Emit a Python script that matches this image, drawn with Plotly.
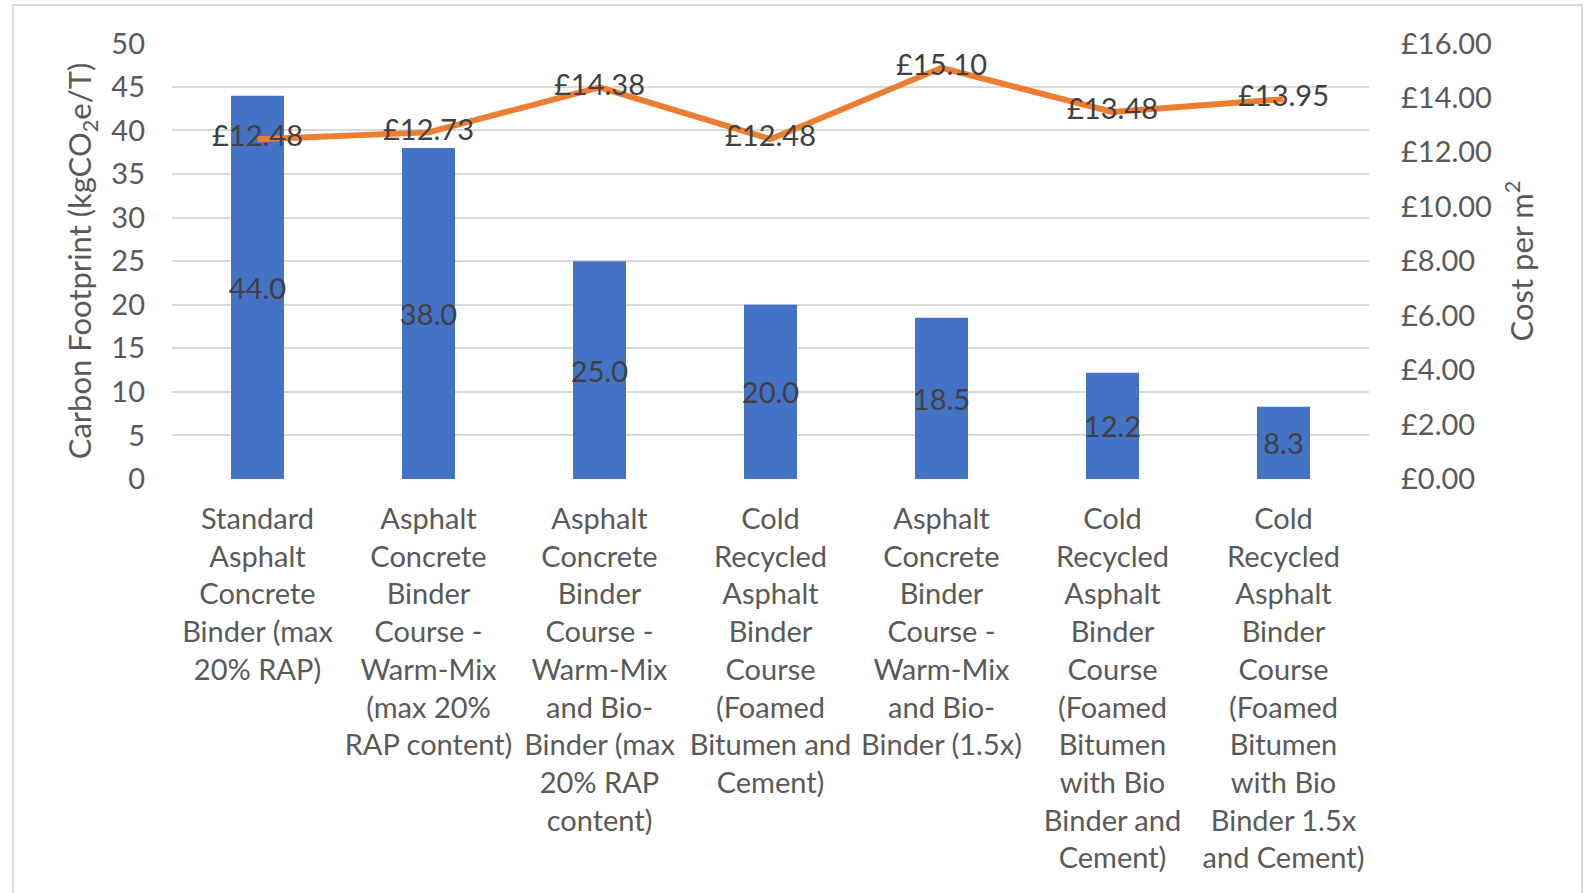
import plotly.graph_objects as go

categories = [
    "Standard<br>Asphalt<br>Concrete<br>Binder (max<br>20% RAP)",
    "Asphalt<br>Concrete<br>Binder<br>Course -<br>Warm-Mix<br>(max 20%<br>RAP content)",
    "Asphalt<br>Concrete<br>Binder<br>Course -<br>Warm-Mix<br>and Bio-<br>Binder (max<br>20% RAP<br>content)",
    "Cold<br>Recycled<br>Asphalt<br>Binder<br>Course<br>(Foamed<br>Bitumen and<br>Cement)",
    "Asphalt<br>Concrete<br>Binder<br>Course -<br>Warm-Mix<br>and Bio-<br>Binder (1.5x)",
    "Cold<br>Recycled<br>Asphalt<br>Binder<br>Course<br>(Foamed<br>Bitumen<br>with Bio<br>Binder and<br>Cement)",
    "Cold<br>Recycled<br>Asphalt<br>Binder<br>Course<br>(Foamed<br>Bitumen<br>with Bio<br>Binder 1.5x<br>and Cement)",
]
carbon = [44.0, 38.0, 25.0, 20.0, 18.5, 12.2, 8.3]
cost = [12.48, 12.73, 14.38, 12.48, 15.10, 13.48, 13.95]
carbon_ticks = [0, 5, 10, 15, 20, 25, 30, 35, 40, 45, 50]
cost_ticks = [0, 2, 4, 6, 8, 10, 12, 14, 16]

FONT = "Lato, 'Liberation Sans', sans-serif"
AX = "#595959"
LBL = "#404040"
FS = 29

fig = go.Figure()
fig.add_trace(go.Bar(
    x=list(range(len(categories))), y=carbon,
    marker=dict(color="#4472C4", line=dict(width=0)),
    width=0.31,
    text=[f"{v:.1f}" for v in carbon],
    textposition="inside", insidetextanchor="middle",
    constraintext="none", textangle=0,
    textfont=dict(family=FONT, size=FS, color=LBL),
    showlegend=False, yaxis="y",
))
fig.add_trace(go.Scatter(
    x=list(range(len(categories))), y=cost,
    mode="lines+text",
    line=dict(color="#ED7D31", width=6),
    text=[f"£{v:.2f}" for v in cost],
    textposition="middle center",
    textfont=dict(family=FONT, size=FS, color=LBL),
    showlegend=False, yaxis="y2", cliponaxis=False,
))

fig.update_layout(
    width=1588, height=893,
    margin=dict(l=172, r=219, t=43, b=414),
    paper_bgcolor="white", plot_bgcolor="white",
    font=dict(family=FONT, size=FS, color=AX),
    xaxis=dict(
        tickmode="array", tickvals=list(range(len(categories))), ticktext=categories,
        range=[-0.5, len(categories) - 0.5],
        showgrid=False, showline=False, zeroline=False, ticks="",
        tickfont=dict(family=FONT, size=FS, color=AX),
        ticklabelstandoff=20,
    ),
    yaxis=dict(
        range=[0, 50.04], tickmode="array", tickvals=carbon_ticks,
        ticktext=[str(v) for v in carbon_ticks],
        showgrid=True, gridcolor="#D9D9D9", gridwidth=2,
        zeroline=False, showline=False, ticks="",
        tickfont=dict(family=FONT, size=FS, color=AX),
        ticklabelstandoff=26,
        title=dict(text="Carbon Footprint (kgCO<sub>2</sub>e/T)",
                   font=dict(family=FONT, size=31, color=AX), standoff=10),
    ),
    yaxis2=dict(
        range=[0, 16.0128], tickmode="array", tickvals=cost_ticks,
        ticktext=[f"£{v:.2f}" for v in cost_ticks],
        overlaying="y", side="right",
        showgrid=False, zeroline=False, showline=False, ticks="",
        tickfont=dict(family=FONT, size=FS, color=AX),
        ticklabelstandoff=31,
        title=dict(text="Cost per m<sup>2</sup>",
                   font=dict(family=FONT, size=31, color=AX), standoff=20),
    ),
    shapes=[dict(type="rect", xref="paper", yref="paper",
                 x0=(13 - 172) / 1197, x1=(1582 - 172) / 1197,
                 y0=-(893 - 479 + 20) / 436, y1=1 + 38 / 436,
                 line=dict(color="#D9D9D9", width=2), fillcolor="rgba(0,0,0,0)", layer="below")],
)

fig.write_html("out.html", config={"displayModeBar": False},
               post_script="document.body.style.margin='0';")
